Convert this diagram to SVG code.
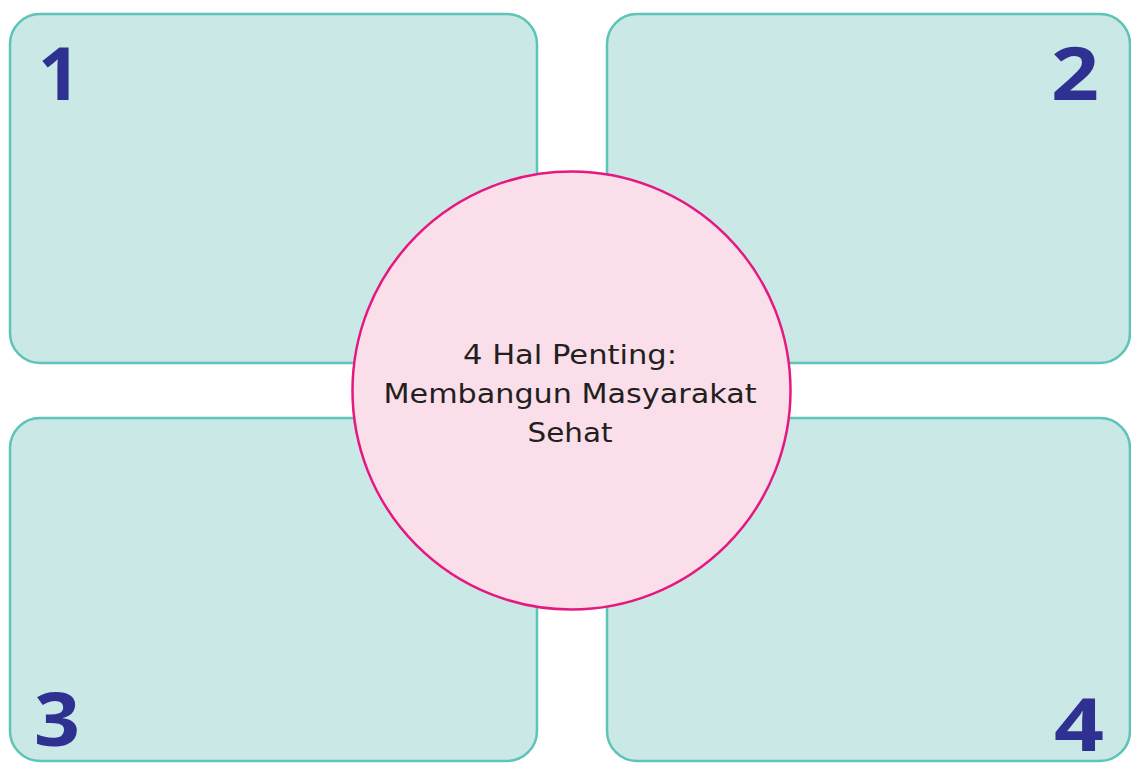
<svg xmlns="http://www.w3.org/2000/svg" width="1131" height="763" viewBox="0 0 1131 763">
<style>
.box{fill:#c9e8e6;stroke:#5cc4b8;stroke-width:2.5}
.num{font-family:"Open Sans","Liberation Sans",sans-serif;font-weight:700;font-size:74px;fill:#2e3192}
.lbl{font-family:"DejaVu Sans","Liberation Sans",sans-serif;font-size:26px;fill:#231f20;text-anchor:middle}
</style>
<rect width="1131" height="763" fill="#ffffff"/>
<g id="box1"><rect class="box" x="10" y="14" width="527" height="349" rx="30"/><text class="num" x="38" y="100">1</text></g>
<g id="box2"><rect class="box" x="607" y="14" width="523" height="349" rx="30"/><text class="num" x="1051" y="100" textLength="48" lengthAdjust="spacingAndGlyphs">2</text></g>
<g id="box3"><rect class="box" x="10" y="418" width="527" height="343" rx="30"/><text class="num" x="34" y="746" textLength="46" lengthAdjust="spacingAndGlyphs">3</text></g>
<g id="box4"><rect class="box" x="607" y="418" width="523" height="343" rx="30"/><text class="num" x="1054" y="751" textLength="50" lengthAdjust="spacingAndGlyphs">4</text></g>
<g id="connectors"></g>
<g id="center"><circle cx="571.5" cy="390.5" r="219" fill="#fadee9" stroke="#e6177f" stroke-width="2.5"/>
<text class="lbl" x="570" y="364" textLength="214" lengthAdjust="spacingAndGlyphs">4 Hal Penting:</text>
<text class="lbl" x="570" y="403" textLength="373" lengthAdjust="spacingAndGlyphs">Membangun Masyarakat</text>
<text class="lbl" x="570" y="442" textLength="85" lengthAdjust="spacingAndGlyphs">Sehat</text></g>
</svg>
